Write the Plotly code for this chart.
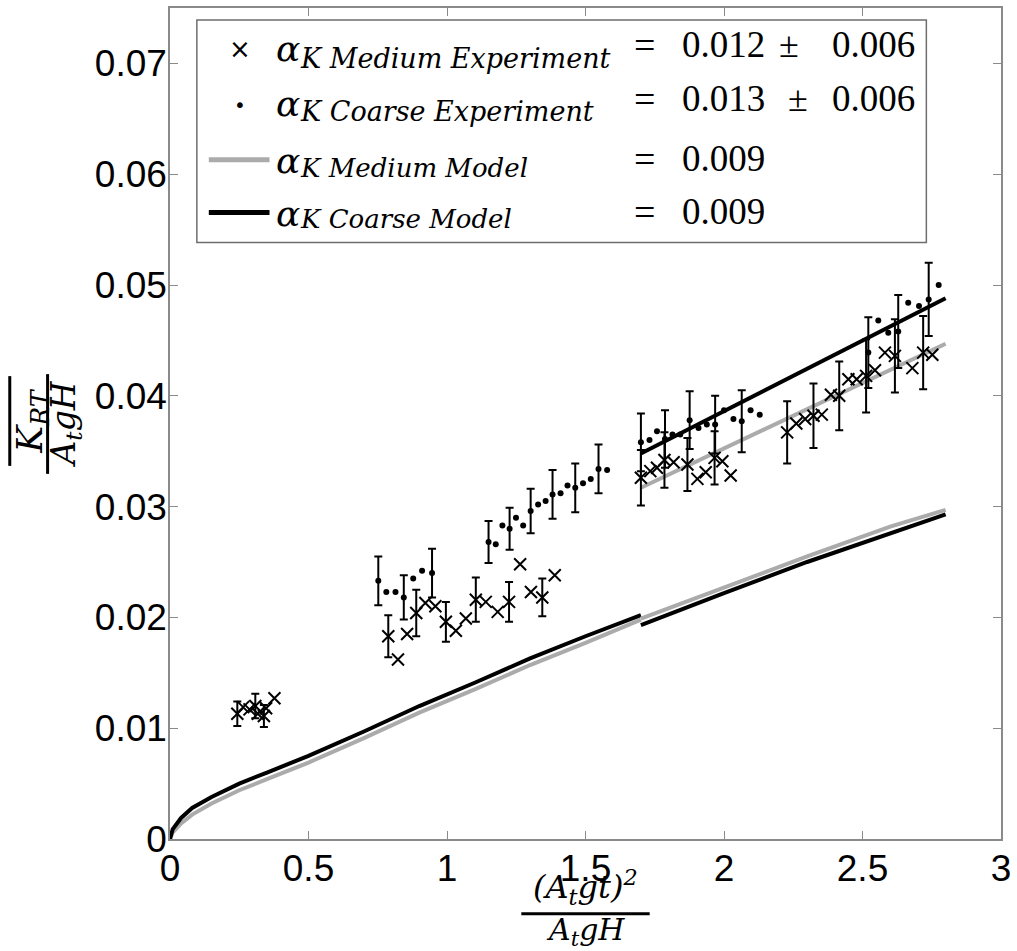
import plotly.graph_objects as go

# ---------------- data ----------------
x_medium = [0.243, 0.264, 0.287, 0.308, 0.317, 0.339, 0.347, 0.377,
            0.788, 0.823, 0.856, 0.889, 0.922, 0.958, 0.996, 1.032, 1.068, 1.104,
            1.140, 1.183, 1.224, 1.264, 1.303, 1.344, 1.389,
            1.700, 1.734, 1.758, 1.785, 1.818, 1.868, 1.904, 1.934, 1.966, 1.994, 2.024,
            2.228, 2.261, 2.293, 2.323, 2.353, 2.386, 2.416, 2.449, 2.479, 2.513,
            2.545, 2.581, 2.617, 2.680, 2.719, 2.752]
y_medium = [0.0113, 0.0119, 0.0117, 0.0120, 0.0113, 0.0111, 0.0118, 0.0127,
            0.0183, 0.0162, 0.0185, 0.0204, 0.0213, 0.0210, 0.0196, 0.0188, 0.0199, 0.0216,
            0.0214, 0.0205, 0.0214, 0.0248, 0.0223, 0.0218, 0.0238,
            0.0326, 0.0332, 0.0335, 0.0342, 0.0340, 0.0338, 0.0325, 0.0331, 0.0344, 0.0341, 0.0328,
            0.0367, 0.0375, 0.0379, 0.0382, 0.0383, 0.0401, 0.0400, 0.0415, 0.0415, 0.0418,
            0.0423, 0.0439, 0.0436, 0.0425, 0.0439, 0.0437]
err_medium = [0.0011, None, None, 0.0011, None, 0.0010, None, None,
              0.0019, None, None, 0.0021, None, None, 0.0018, None, None, 0.0020,
              None, None, 0.0018, None, None, 0.0017, None,
              0.0025, None, None, 0.0025, None, 0.0024, None, None, 0.0024, None, None,
              0.0028, None, None, 0.0029, None, None, 0.0031, None, None, 0.0033,
              None, None, 0.0033, None, 0.0033, None]

x_coarse = [0.752, 0.781, 0.814, 0.844, 0.878, 0.910, 0.946,
            1.150, 1.176, 1.200, 1.226, 1.249, 1.275, 1.302, 1.329, 1.356, 1.381,
            1.410, 1.435, 1.463, 1.491, 1.519, 1.547, 1.578,
            1.700, 1.731, 1.758, 1.787, 1.814, 1.842, 1.876, 1.908, 1.938, 1.968,
            2.000, 2.034, 2.064, 2.096, 2.129,
            2.521, 2.557, 2.593, 2.629, 2.665, 2.704, 2.739, 2.775]
y_coarse = [0.0233, 0.0223, 0.0223, 0.0218, 0.0235, 0.0242, 0.0240,
            0.0268, 0.0266, 0.0283, 0.0280, 0.0290, 0.0283, 0.0296, 0.0302, 0.0305, 0.0311,
            0.0312, 0.0319, 0.0317, 0.0321, 0.0325, 0.0334, 0.0333,
            0.0358, 0.0360, 0.0368, 0.0361, 0.0365, 0.0365, 0.0378, 0.0371, 0.0374, 0.0374,
            0.0387, 0.0379, 0.0377, 0.0387, 0.0383,
            0.0439, 0.0468, 0.0457, 0.0458, 0.0484, 0.0481, 0.0487, 0.0500]
err_coarse = [0.0022, None, None, 0.0020, None, None, 0.0022,
              0.0019, None, None, 0.0019, None, None, 0.0020, None, None, 0.0022,
              None, None, 0.0022, None, None, 0.0022, None,
              0.0026, None, None, 0.0026, None, None, 0.0026, None, None, 0.0026,
              None, None, 0.0028, None, None,
              0.0032, None, None, 0.0033, None, None, 0.0033, None]

# model curves
x_model_low_a = [0, 0.01, 0.04, 0.08, 0.15, 0.25, 0.35, 0.5, 0.7, 0.9, 1.1, 1.3, 1.5, 1.7]
y_coarse_model_low_a = [0, 0.0009, 0.0019, 0.0028, 0.0038, 0.0050, 0.0060, 0.0075,
                        0.0097, 0.0120, 0.0141, 0.0163, 0.0183, 0.0202]
y_medium_model_low_a = [0, 0.0006, 0.0014, 0.0022, 0.0032, 0.0044, 0.0054, 0.0069,
                        0.0091, 0.0114, 0.0135, 0.0157, 0.0177, 0.0198]
x_model_low_b = [1.7, 2.0, 2.3, 2.6, 2.8]
y_coarse_model_low_b = [0.0193, 0.0222, 0.0250, 0.0276, 0.0293]
y_medium_model_low_b = [0.0199, 0.0227, 0.0255, 0.0282, 0.0297]
x_model_high = [1.7, 2.25, 2.8]
y_coarse_model_high = [0.0348, 0.0418, 0.0488]
y_medium_model_high = [0.0317, 0.0382, 0.0447]

legend_subs = ["K Medium Experiment", "K Coarse Experiment", "K Medium Model", "K Coarse Model"]
legend_values = [("0.012", "0.006"), ("0.013", "0.006"), ("0.009", None), ("0.009", None)]

x_ticks = [0, 0.5, 1, 1.5, 2, 2.5, 3]
x_ticktext = ["0", "0.5", "1", "1.5", "2", "2.5", "3"]
y_ticks = [0, 0.01, 0.02, 0.03, 0.04, 0.05, 0.06, 0.07]
y_ticktext = ["0", "0.01", "0.02", "0.03", "0.04", "0.05", "0.06", "0.07"]

GRAY = "#ababab"
AXGRAY = "#8a8a8a"

# ---------------- figure ----------------
fig = go.Figure()

def add_line(x, y, color):
    fig.add_trace(go.Scatter(x=x, y=y, mode="lines", line=dict(color=color, width=4),
                             showlegend=False, hoverinfo="skip"))

add_line(x_model_low_a, y_medium_model_low_a, GRAY)
add_line(x_model_low_a, y_coarse_model_low_a, "black")
add_line(x_model_low_b, y_medium_model_low_b, GRAY)
add_line(x_model_low_b, y_coarse_model_low_b, "black")
add_line(x_model_high, y_medium_model_high, GRAY)
add_line(x_model_high, y_coarse_model_high, "black")

def add_errors(xs, ys, es):
    ex = [x for x, e in zip(xs, es) if e is not None]
    ey = [y for y, e in zip(ys, es) if e is not None]
    ee = [e for e in es if e is not None]
    fig.add_trace(go.Scatter(x=ex, y=ey, mode="markers",
                             marker=dict(size=1, color="rgba(0,0,0,0)"),
                             error_y=dict(type="data", array=ee, color="black",
                                          thickness=2, width=4),
                             showlegend=False, hoverinfo="skip"))

add_errors(x_medium, y_medium, err_medium)
add_errors(x_coarse, y_coarse, err_coarse)

fig.add_trace(go.Scatter(x=x_medium, y=y_medium, mode="markers",
                         marker=dict(symbol="x-thin", size=12, color="black",
                                     line=dict(width=2, color="black")),
                         showlegend=False))
fig.add_trace(go.Scatter(x=x_coarse, y=y_coarse, mode="markers",
                         marker=dict(symbol="circle", size=6, color="black"),
                         showlegend=False))

# ---------------- helpers for pixel placement ----------------
L, R, T, B = 170, 1005, 6, 839
def px(x):
    return (x - L) / (R - L)
def py(y):
    return (B - y) / (B - T)

shapes = []
annotations = []

def ann(text, x, y, size, family, xanchor="center", yanchor="middle", italic=False, angle=0):
    f = dict(family=family, size=size, color="black")
    if italic:
        f["style"] = "italic"
    annotations.append(dict(text=text, x=px(x), y=py(y), xref="paper", yref="paper",
                            xanchor=xanchor, yanchor=yanchor, showarrow=False,
                            textangle=angle, font=f))

# legend box
shapes.append(dict(type="rect", xref="paper", yref="paper", x0=px(197), x1=px(930),
                   y0=py(241), y1=py(18), line=dict(color="#6e6e6e", width=1.5),
                   fillcolor="white", layer="above"))
shapes.append(dict(type="line", xref="paper", yref="paper", x0=px(209), x1=px(270),
                   y0=py(158), y1=py(158), line=dict(color=GRAY, width=5), layer="above"))
shapes.append(dict(type="line", xref="paper", yref="paper", x0=px(209), x1=px(270),
                   y0=py(211), y1=py(211), line=dict(color="black", width=5), layer="above"))

ann("×", 240, 47, 26, "DejaVu Sans")
ann("•", 240, 103, 20, "DejaVu Sans")

alpha_y = [47, 102, 159, 212]
sub_y = [57, 110, 166, 218]
num_y = [43, 97, 157, 210]
pm_x = [792, 801]
sub_sizes = [27, 27, 26, 26]
for i in range(4):
    ann("α", 275, alpha_y[i], 36, "DejaVu Serif", xanchor="left", italic=True)
    ann(legend_subs[i], 299, sub_y[i], sub_sizes[i], "DejaVu Serif", xanchor="left", italic=True)
    v1, v2 = legend_values[i]
    ann("=", 647, num_y[i], 38, "Liberation Serif")
    ann(v1, 682, num_y[i], 37, "Liberation Serif", xanchor="left")
    if v2 is not None:
        ann("±", pm_x[i], num_y[i], 36, "Liberation Serif")
        ann(v2, 833, num_y[i], 37, "Liberation Serif", xanchor="left")

# x-axis title (fraction)
ann("(A<sub>t</sub>gt)<sup>2</sup>", 588, 912, 32, "DejaVu Serif", yanchor="bottom", italic=True)
shapes.append(dict(type="line", xref="paper", yref="paper", x0=px(523), x1=px(652),
                   y0=py(914), y1=py(914), line=dict(color="black", width=3)))
ann("A<sub>t</sub>gH", 587, 910, 30, "DejaVu Serif", yanchor="top", italic=True)

# y-axis title (fraction, rotated)
shapes.append(dict(type="line", xref="paper", yref="paper", x0=px(9), x1=px(9),
                   y0=py(375), y1=py(465), line=dict(color="black", width=3)))
ann("K<sub>RT</sub>", 31, 420, 36, "DejaVu Serif", italic=True, angle=-90)
shapes.append(dict(type="line", xref="paper", yref="paper", x0=px(47), x1=px(47),
                   y0=py(373), y1=py(473), line=dict(color="black", width=3)))
ann("A<sub>t</sub>gH", 66, 423, 33, "DejaVu Serif", italic=True, angle=-90)

axis_common = dict(showline=True, linecolor=AXGRAY, linewidth=1.5, mirror="ticks",
                   ticks="inside", ticklen=8, tickwidth=1, tickcolor=AXGRAY,
                   showgrid=False, zeroline=False,
                   tickfont=dict(family="Liberation Sans", size=37, color="black"))

fig.update_layout(
    width=1017, height=951,
    margin=dict(l=L, r=1017 - R, t=T, b=951 - B),
    paper_bgcolor="white", plot_bgcolor="white",
    xaxis=dict(range=[0, 3], tickvals=x_ticks, ticktext=x_ticktext,
               ticklabelstandoff=-4, **axis_common),
    yaxis=dict(range=[0, 0.075], tickvals=y_ticks, ticktext=y_ticktext,
               ticklabelstandoff=-6, **axis_common),
    shapes=shapes, annotations=annotations, showlegend=False,
)

fig.write_html("out.html", config={"displayModeBar": False},
               post_script="document.body.style.margin='0px';")
